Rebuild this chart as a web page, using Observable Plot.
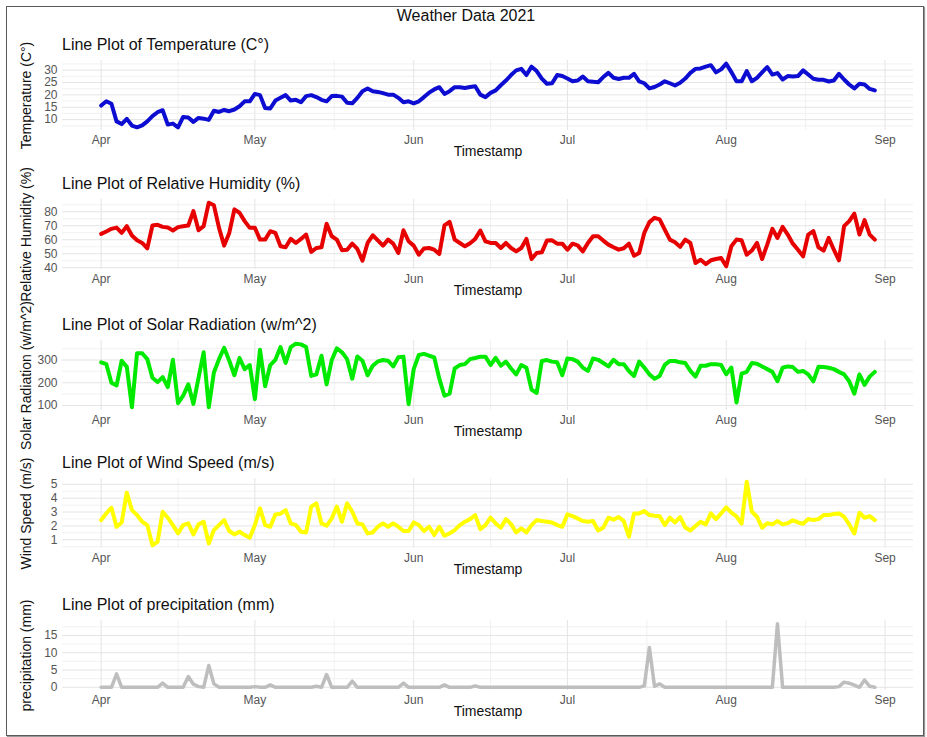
<!DOCTYPE html>
<html>
<head>
<meta charset="utf-8">
<script src="https://cdn.jsdelivr.net/npm/d3@7"></script>
<script src="https://cdn.jsdelivr.net/npm/@observablehq/plot@0.6"></script>
<style>
  html, body { margin: 0; padding: 0; background: #fff; }
  #page { position: relative; width: 927px; height: 737px; overflow: hidden;
          font-family: "Liberation Sans", Arial, sans-serif; }
  #frame { position: absolute; left: 6px; top: 6px; width: 916px; height: 728px;
           border: 1px solid #5a5a5a; box-shadow: 1px 1px 1px #999; }
  .title { position: absolute; top: 8px; left: 466px; transform: translateX(-50%);
           font-size: 16px; line-height: 16px; color: #111; white-space: nowrap; }
  .subtitle { position: absolute; left: 62px; font-size: 16px; line-height: 16px;
              color: #111; white-space: nowrap; }
  .panel { position: absolute; left: 0; }
</style>
</head>
<body>
<div id="page"><div id="frame"></div></div>
<script>
// Daily observations, 2021-04-01 .. 2021-08-30
const startDay = "2021-04-01";
const endDay = "2021-08-31"; // exclusive

const temperature = [
  15.7, 17.4, 16.4, 9.3, 8.2, 10.3, 7.6, 6.9, 7.7, 9.3,
  11.4, 13.0, 13.8, 8.0, 8.4, 6.9, 11.1, 10.9, 9.1, 10.7,
  10.4, 9.9, 13.6, 13.1, 13.9, 13.4, 14.1, 15.4, 17.4, 17.4,
  20.4, 19.9, 14.7, 14.5, 17.7, 18.8, 19.9, 17.7, 18.0, 17.0,
  19.5, 19.9, 19.1, 18.0, 17.4, 19.5, 19.6, 19.3, 16.8, 16.6,
  18.8, 21.5, 22.6, 21.5, 21.2, 20.7, 20.1, 20.1, 18.8, 17.0,
  17.4, 16.6, 17.4, 19.1, 20.9, 22.2, 23.1, 20.4, 21.5, 23.1,
  23.1, 22.8, 23.2, 23.5, 20.1, 19.1, 20.8, 21.8, 23.9, 25.8,
  28.0, 29.9, 30.5, 28.0, 31.4, 29.6, 26.6, 24.5, 24.7, 28.0,
  27.6, 26.6, 25.5, 25.8, 27.4, 25.5, 25.3, 25.1, 27.2, 28.9,
  26.9, 26.4, 26.9, 26.9, 28.5, 25.5, 24.7, 22.6, 23.2, 24.2,
  25.5, 24.7, 23.8, 24.9, 26.6, 28.9, 30.5, 30.7, 31.4, 32.0,
  29.1, 30.3, 32.6, 29.2, 25.5, 25.5, 29.6, 25.5, 26.9, 29.1,
  31.2, 28.2, 28.8, 26.2, 27.6, 27.4, 27.6, 29.9, 28.2, 26.5,
  26.1, 26.1, 25.4, 25.8, 28.5, 26.2, 24.2, 22.6, 24.5, 24.2,
  22.4, 21.8
];

const humidity = [
  64.2, 65.9, 67.8, 68.7, 64.9, 69.7, 63.0, 59.6, 57.7, 53.9,
  70.2, 70.7, 69.2, 68.7, 66.6, 69.0, 69.7, 70.2, 80.5, 66.8,
  69.7, 86.5, 84.6, 68.5, 55.8, 64.9, 81.7, 79.3, 73.3, 68.5,
  68.5, 60.1, 60.1, 66.1, 64.9, 55.3, 54.6, 60.6, 57.7, 60.6,
  63.7, 51.3, 54.1, 54.6, 71.4, 62.5, 60.1, 52.5, 52.9, 57.2,
  53.4, 45.0, 57.7, 63.2, 59.6, 55.8, 60.1, 57.2, 50.5, 66.8,
  58.9, 55.8, 49.3, 53.7, 54.1, 52.9, 49.8, 70.2, 72.8, 60.1,
  57.7, 55.3, 57.5, 60.6, 66.6, 58.9, 57.7, 57.7, 54.1, 57.7,
  54.1, 51.7, 54.1, 60.6, 46.2, 50.5, 51.0, 59.4, 59.6, 57.2,
  57.2, 52.9, 57.2, 56.0, 51.7, 57.7, 62.5, 62.5, 59.4, 56.5,
  54.6, 52.9, 53.9, 57.2, 48.6, 50.5, 64.9, 72.6, 75.7, 74.5,
  67.3, 60.1, 58.2, 54.9, 60.1, 57.7, 43.4, 45.7, 42.6, 45.3,
  46.2, 46.9, 41.0, 55.3, 60.1, 59.6, 49.3, 52.3, 57.7, 46.2,
  56.5, 67.8, 61.3, 69.2, 63.7, 57.2, 52.9, 48.1, 63.7, 66.1,
  54.6, 52.2, 61.3, 52.9, 45.3, 69.7, 73.3, 78.6, 63.7, 74.0,
  63.7, 60.1
];

const solarRadiation = [
  290, 282, 200, 188, 297, 270, 92, 330, 330, 304,
  222, 203, 225, 181, 301, 110, 143, 193, 107, 222,
  334, 92, 245, 304, 354, 297, 233, 309, 260, 278,
  128, 345, 185, 278, 301, 357, 287, 357, 372, 369,
  357, 230, 237, 319, 193, 300, 352, 334, 304, 218,
  316, 297, 233, 275, 294, 300, 297, 272, 312, 315,
  106, 260, 322, 327, 319, 312, 218, 143, 152, 263,
  278, 282, 304, 309, 315, 315, 278, 310, 275, 293,
  263, 237, 278, 266, 170, 155, 296, 300, 293, 290,
  233, 307, 304, 293, 267, 252, 307, 301, 287, 272,
  301, 282, 282, 252, 230, 293, 267, 237, 218, 230,
  279, 296, 296, 290, 287, 252, 227, 275, 275, 282,
  282, 278, 237, 267, 113, 240, 248, 287, 284, 272,
  260, 248, 207, 266, 272, 269, 248, 252, 237, 206,
  270, 269, 266, 260, 248, 237, 207, 152, 237, 191,
  227, 248
];

const windSpeed = [
  2.42, 2.90, 3.31, 1.94, 2.25, 4.40, 3.14, 2.78, 2.30, 2.06,
  0.60, 0.85, 3.02, 2.59, 2.06, 1.46, 2.06, 2.18, 1.39, 2.11,
  2.30, 0.73, 1.70, 2.06, 2.42, 1.63, 1.39, 1.58, 1.34, 1.14,
  2.06, 3.27, 2.06, 1.94, 2.83, 2.88, 3.14, 2.18, 2.06, 1.58,
  1.53, 3.39, 3.63, 2.18, 2.01, 2.54, 3.39, 2.30, 3.63, 3.02,
  2.18, 2.11, 1.46, 1.53, 1.94, 2.18, 1.94, 2.18, 1.94, 1.63,
  1.63, 2.25, 2.06, 1.63, 1.94, 1.34, 1.94, 1.29, 1.46, 1.70,
  2.06, 2.30, 2.49, 2.78, 1.77, 2.06, 2.59, 2.18, 1.87, 2.49,
  2.13, 1.53, 1.82, 1.53, 2.06, 2.42, 2.35, 2.30, 2.25, 2.06,
  1.94, 2.83, 2.71, 2.54, 2.35, 2.30, 2.35, 1.67, 1.87, 2.59,
  2.45, 2.64, 2.35, 1.22, 2.90, 2.90, 3.07, 2.78, 2.73, 2.69,
  2.06, 2.59, 2.25, 2.64, 1.89, 1.67, 1.99, 2.30, 2.11, 2.90,
  2.49, 2.90, 3.34, 2.95, 2.69, 2.16, 5.19, 3.02, 2.66, 1.87,
  2.20, 2.11, 2.35, 2.11, 2.20, 2.40, 2.25, 2.16, 2.49, 2.42,
  2.49, 2.78, 2.78, 2.86, 2.90, 2.66, 2.11, 1.46, 2.95, 2.59,
  2.71, 2.42
];

const precipitation = [
  0, 0, 0, 3.9, 0, 0, 0, 0, 0, 0,
  0, 0, 1.2, 0, 0, 0, 0, 3.1, 0.9, 0.2,
  0, 6.3, 1.0, 0, 0, 0, 0, 0, 0, 0,
  0.2, 0, 0, 0.7, 0, 0, 0, 0, 0, 0,
  0, 0, 0.3, 0, 3.7, 0, 0, 0, 0, 1.8,
  0, 0, 0, 0, 0, 0, 0, 0, 0, 1.2,
  0, 0, 0, 0, 0, 0, 0, 0.7, 0, 0,
  0, 0, 0, 0.4, 0, 0, 0, 0, 0, 0,
  0, 0, 0, 0, 0, 0, 0, 0, 0, 0,
  0, 0, 0, 0, 0, 0, 0, 0, 0, 0,
  0, 0, 0, 0, 0, 0, 0.4, 11.5, 0.3, 1.0,
  0, 0, 0, 0, 0, 0, 0, 0, 0, 0,
  0, 0, 0, 0, 0, 0, 0, 0, 0, 0,
  0, 0, 18.4, 0, 0, 0, 0, 0, 0, 0,
  0, 0, 0, 0, 0.2, 1.5, 1.2, 0.6, 0, 2.1,
  0.3, 0
];

// Axis breaks
const monthTicks = ["2021-04-01", "2021-05-01", "2021-06-01", "2021-07-01", "2021-08-01", "2021-09-01"];
const tempTicks = [10, 15, 20, 25, 30];
const humidityTicks = [40, 50, 60, 70, 80];
const solarTicks = [100, 200, 300];
const windTicks = [1, 2, 3, 4, 5];
const precipTicks = [0, 5, 10, 15];

const parse = d3.utcParse("%Y-%m-%d");
const dates = d3.utcDay.range(parse(startDay), parse(endDay));
const monthDates = monthTicks.map(parse);
// minor vertical grid halfway between month breaks
const minorMonthDates = d3.pairs(monthDates).map(([a, b]) => new Date((+a + +b) / 2));

const FONT = '"Liberation Sans", Arial, sans-serif';
const page = document.getElementById("page");

function addTitle() {
  const t = document.createElement("div");
  t.className = "title";
  t.textContent = "Weather Data 2021";
  page.appendChild(t);
}

function panel({values, color, title, yLabel, ticks, top, lineWidth = 4}) {
  const data = dates.map((date, i) => ({date, value: values[i]}));
  const [lo, hi] = d3.extent(values);
  const pad = (hi - lo) * 0.05;
  const yDomain = [lo - pad, hi + pad];
  const [x0, x1] = d3.extent(dates);
  const xpad = (x1 - x0) * 0.05;
  const step = ticks[1] - ticks[0];
  const minor = d3.range(ticks[0] - step / 2, ticks[ticks.length - 1] + step, step)
    .filter(v => v >= yDomain[0] && v <= yDomain[1]);

  const sub = document.createElement("div");
  sub.className = "subtitle";
  sub.style.top = (top - 23) + "px";
  sub.textContent = title;
  page.appendChild(sub);

  const chart = Plot.plot({
    width: 927,
    height: 110,
    marginTop: 10,
    marginBottom: 30,
    marginLeft: 62,
    marginRight: 14,
    style: {fontFamily: FONT, overflow: "visible", background: "transparent"},
    x: {type: "utc", domain: [new Date(+x0 - xpad), new Date(+x1 + xpad)]},
    y: {domain: yDomain},
    marks: [
      Plot.ruleX(minorMonthDates, {stroke: "#ededed", strokeWidth: 0.8}),
      Plot.ruleX(monthDates, {stroke: "#e4e4e4", strokeWidth: 1}),
      Plot.ruleY(minor, {stroke: "#ededed", strokeWidth: 0.8}),
      Plot.ruleY(ticks, {stroke: "#e4e4e4", strokeWidth: 1}),
      Plot.axisX({ticks: monthDates, tickFormat: d3.utcFormat("%b"), tickSize: 0, tickPadding: 5,
                  fontSize: 12, color: "#555", label: null}),
      Plot.axisY({ticks, tickFormat: d3.format("~f"), tickSize: 0, tickPadding: 5,
                  fontSize: 12, color: "#555", label: null}),
      Plot.line(data, {x: "date", y: "value", stroke: color, strokeWidth: lineWidth,
                       strokeLinejoin: "round", strokeLinecap: "round"}),
      Plot.text(["Timestamp"], {frameAnchor: "bottom", dy: 25, fontSize: 14, fill: "#111"}),
      Plot.text([yLabel], {frameAnchor: "left", textAnchor: "middle", lineAnchor: "middle",
                           dx: -36, rotate: -90, fontSize: 14, fill: "#111"})
    ]
  });
  chart.classList.add("panel");
  chart.style.top = (top - 10) + "px";
  page.appendChild(chart);
}

addTitle();
panel({values: temperature, color: "#0d0dd2", title: "Line Plot of Temperature (C°)",
       yLabel: "Temperature (C°)", ticks: tempTicks, top: 60});
panel({values: humidity, color: "#e60000", title: "Line Plot of Relative Humidity (%)",
       yLabel: "Relative Humidity (%)", ticks: humidityTicks, top: 199});
panel({values: solarRadiation, color: "#00ea00", title: "Line Plot of Solar Radiation (w/m^2)",
       yLabel: "Solar Radiation (w/m^2)", ticks: solarTicks, top: 340});
panel({values: windSpeed, color: "#ffff00", title: "Line Plot of Wind Speed (m/s)",
       yLabel: "Wind Speed (m/s)", ticks: windTicks, top: 478});
panel({values: precipitation, color: "#bebebe", title: "Line Plot of precipitation (mm)",
       yLabel: "precipitation (mm)", ticks: precipTicks, top: 620, lineWidth: 3.5});
</script>
</body>
</html>
